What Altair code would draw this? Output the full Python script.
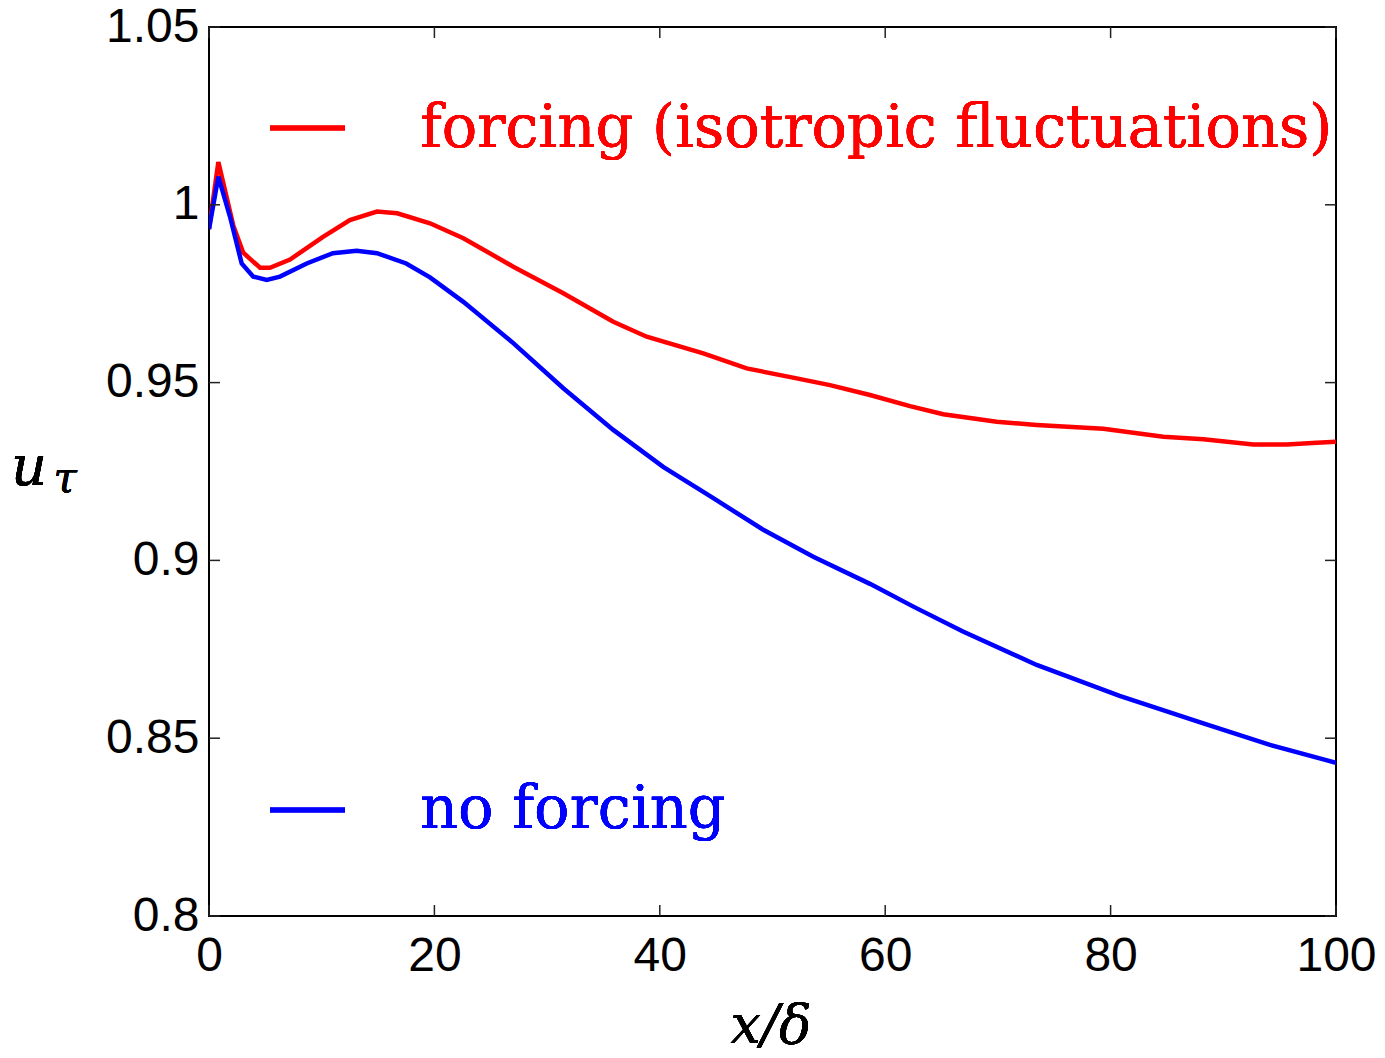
import altair as alt
import pandas as pd

# Friction velocity along the streamwise direction
x_forcing = [0, 0.83, 2.16, 3.04, 4.53, 5.41, 7.19, 10.12, 12.5, 14.9, 16.7, 19.61,
             22.57, 27.0, 31.44, 35.87, 38.84, 43.86, 47.71, 52.15, 55.1, 58.65,
             62.2, 65.15, 69.9, 73.44, 79.35, 84.68, 88.23, 92.66, 95.63, 98.29, 100]
u_forcing = [0.9932, 1.0120, 0.9941, 0.9865, 0.9823, 0.9823, 0.9846, 0.9910, 0.9957,
             0.9981, 0.9976, 0.9948, 0.9906, 0.9826, 0.9751, 0.9671, 0.9629, 0.9582,
             0.9540, 0.9512, 0.9493, 0.9465, 0.9434, 0.9411, 0.9390, 0.9381, 0.9370,
             0.9348, 0.9341, 0.9326, 0.9326, 0.9331, 0.9334]

x_noforcing = [0, 0.83, 1.86, 2.9, 3.93, 5.12, 6.3, 8.67, 11.0, 13.1, 14.9, 17.5, 19.61,
               22.57, 27.0, 31.44, 35.87, 40.3, 44.75, 49.18, 53.62, 58.65, 62.5, 66.9,
               73.44, 80.8, 88.23, 94.14, 100]
u_noforcing = [0.9932, 1.0079, 0.9967, 0.9835, 0.9798, 0.9789, 0.9798, 0.9835, 0.9864,
               0.9871, 0.9864, 0.9835, 0.9796, 0.9727, 0.9611, 0.9484, 0.9367, 0.9263,
               0.9175, 0.9086, 0.9010, 0.8934, 0.8870, 0.8800, 0.8706, 0.8619, 0.8542,
               0.8481, 0.8431]

x_ticks = [0, 20, 40, 60, 80, 100]
y_ticks = [0.8, 0.85, 0.9, 0.95, 1.0, 1.05]

W, H = 1127, 889
TICK = 11

df = pd.concat([
    pd.DataFrame({"x": x_forcing, "u": u_forcing, "case": "forcing"}),
    pd.DataFrame({"x": x_noforcing, "u": u_noforcing, "case": "none"}),
])
xt = pd.DataFrame({"t": x_ticks})
yt = pd.DataFrame({"t": y_ticks})

xscale = alt.Scale(domain=[0, 100], nice=False, zero=False)
yscale = alt.Scale(domain=[0.8, 1.05], nice=False, zero=False)

lines = alt.Chart(df).mark_line(strokeWidth=4.5, clip=True).encode(
    x=alt.X("x:Q", scale=xscale,
            axis=alt.Axis(values=x_ticks, ticks=False, domain=False, grid=False,
                          title=None, labelFont="Liberation Sans", labelFontSize=48,
                          labelColor="black", labelPadding=16, labelFlush=False)),
    y=alt.Y("u:Q", scale=yscale,
            axis=alt.Axis(values=y_ticks, ticks=False, domain=False, grid=False,
                          title=None, format="~g", labelFont="Liberation Sans",
                          labelFontSize=48, labelColor="black", labelPadding=10,
                          labelFlush=False)),
    color=alt.Color("case:N", scale=alt.Scale(domain=["forcing", "none"],
                                              range=["#ff0000", "#0000ff"]),
                    legend=None),
    detail="case:N",
)

tick_style = dict(color="#222222", strokeWidth=1.5)
ticks_bottom = alt.Chart(xt).mark_rule(**tick_style).encode(
    x=alt.X("t:Q", scale=xscale), y=alt.value(H), y2=alt.value(H - TICK))
ticks_top = alt.Chart(xt).mark_rule(**tick_style).encode(
    x=alt.X("t:Q", scale=xscale), y=alt.value(0), y2=alt.value(TICK))
ticks_left = alt.Chart(yt).mark_rule(**tick_style).encode(
    y=alt.Y("t:Q", scale=yscale), x=alt.value(0), x2=alt.value(TICK))
ticks_right = alt.Chart(yt).mark_rule(**tick_style).encode(
    y=alt.Y("t:Q", scale=yscale), x=alt.value(W), x2=alt.value(W - TICK))

# Legend entries drawn inside the plot
leg_red_line = alt.Chart(xt).mark_rule(color="#ff0000", strokeWidth=4.5).encode(
    x=alt.value(61), x2=alt.value(136), y=alt.value(101))
leg_blue_line = alt.Chart(xt).mark_rule(color="#0000ff", strokeWidth=4.5).encode(
    x=alt.value(61), x2=alt.value(136), y=alt.value(783))
leg_red_text = alt.Chart(xt).mark_text(
    text="forcing (isotropic fluctuations)", color="#ff0000", font="DejaVu Serif",
    fontSize=59, align="left", baseline="alphabetic").encode(
    x=alt.value(211), y=alt.value(120))
leg_blue_text = alt.Chart(xt).mark_text(
    text="no forcing", color="#0000ff", font="DejaVu Serif",
    fontSize=59, align="left", baseline="alphabetic").encode(
    x=alt.value(211), y=alt.value(801))

# Axis titles
xtitle = alt.Chart(xt).mark_text(
    text="x/δ", font="DejaVu Serif", fontStyle="italic", fontSize=54,
    align="center", baseline="alphabetic", color="black").encode(
    x=alt.value(562), y=alt.value(1016))
ytitle_u = alt.Chart(xt).mark_text(
    text="u", font="DejaVu Serif", fontStyle="italic", fontSize=56,
    align="center", baseline="alphabetic", color="black").encode(
    x=alt.value(-180), y=alt.value(458))
ytitle_tau = alt.Chart(xt).mark_text(
    text="τ", font="DejaVu Serif", fontStyle="italic", fontSize=42,
    align="center", baseline="alphabetic", color="black").encode(
    x=alt.value(-144), y=alt.value(465))

chart = alt.layer(
    lines, ticks_bottom, ticks_top, ticks_left, ticks_right,
    leg_red_line, leg_blue_line, leg_red_text, leg_blue_text,
    xtitle, ytitle_u, ytitle_tau,
).properties(
    width=W, height=H,
    autosize=alt.AutoSizeParams(type="none"),
    padding={"left": 209, "top": 27, "right": 49, "bottom": 142},
).configure(
    background="white",
    view=alt.ViewConfig(stroke="black", strokeWidth=2),
)

chart.save("out.html", embed_options={"renderer": "svg", "actions": False})
